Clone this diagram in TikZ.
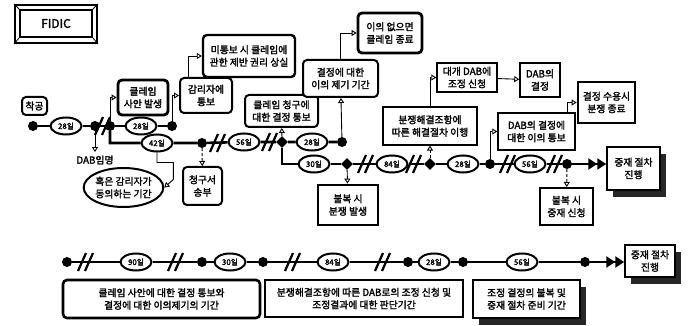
\documentclass[tikz,border=0pt]{standalone}
\usepackage{fontspec}
\setmainfont{Noto Sans CJK KR}[FakeBold=2]
\usetikzlibrary{arrows.meta,shapes.geometric,shadows}
\newcommand\hashat[2]{\draw[hash] (#1-8,#2+9) -- ++(8,-18) (#1-1,#2+9) -- ++(8,-18);}
\begin{document}
\begin{tikzpicture}[x=1pt,y=-1pt,
 font=\fontsize{9.8}{12.5}\selectfont,
 tl/.style={line width=2.6pt},
 dot/.style={circle,fill=black,inner sep=0pt,minimum size=10pt},
 dia/.style={diamond,fill=black,inner sep=0pt,minimum size=12pt},
 dur/.style={ellipse,draw,line width=2pt,fill=white,inner sep=0pt,minimum width=31pt,minimum height=17pt,font=\fontsize{7.8}{8}\selectfont},
 rbox/.style={draw,rounded corners=4pt,line width=2pt,align=center,inner sep=1pt,fill=white},
 sbox/.style={draw,line width=1.5pt,align=center,inner sep=1pt,fill=white},
 conn/.style={line width=0.9pt,-{Triangle[open,length=5pt,width=6pt]}},
 dconn/.style={conn,densely dashed},
 hash/.style={line width=2.2pt},
 big/.style={tl,-{Triangle[length=9pt,width=11pt]Triangle[length=9pt,width=11pt]}},
 shad/.style={drop shadow={shadow xshift=6pt,shadow yshift=-7pt,fill=black!85,opacity=1}}
]
\useasboundingbox (0,0) rectangle (697,326);

% FIDIC title
\node[draw,line width=2pt,minimum width=82pt,minimum height=38pt] (fidicframe) at (56,24) {};
\node[draw,line width=1.6pt,minimum width=72pt,minimum height=27pt,font=\fontsize{12}{13}\selectfont] (fidic) at (56,23.5) {FIDIC};
\draw[line width=0.8pt] (fidicframe.north west) -- (fidic.north west)
  (fidicframe.north east) -- (fidic.north east)
  (fidicframe.south west) -- (fidic.south west)
  (fidicframe.south east) -- (fidic.south east);

% boxes
\node[rbox,minimum width=25pt,minimum height=18pt] (start) at (34.5,106) {착공};
\node[rbox,line width=2.8pt,minimum width=50pt,minimum height=35pt] (claim) at (143,97.5) {클레임\\사안 발생};
\node[rbox,minimum width=52pt,minimum height=35pt] (notify) at (206,95.5) {감리자에\\통보};
\node[rbox,line width=2.4pt,minimum width=92pt,minimum height=42pt] (lose) at (249,56) {미통보 시 클레임에\\관한 제반 권리 상실};
\node[rbox,minimum width=73pt,minimum height=32pt] (decide) at (281.5,111) {클레임 청구에\\대한 결정 통보};
\node[rbox,minimum width=75pt,minimum height=37pt] (objection) at (340.5,78.5) {결정에 대한\\이의 제기 기간};
\node[rbox,line width=2.8pt,minimum width=64pt,minimum height=40pt] (noobj) at (390,33) {이의 없으면\\클레임 종료};
\node (dab) at (95,160) {DAB임명};
\node[ellipse,draw,line width=2pt,minimum width=77pt,minimum height=39pt,align=center,inner sep=0pt] (agree) at (123.5,187.5) {혹은 감리자가\\동의하는 기간};
\node[rbox,minimum width=39pt,minimum height=38pt] (send) at (202.5,186) {청구서\\송부};
\node[sbox,line width=2.8pt,minimum width=60pt,minimum height=40pt] (dispute) at (348,205) {불복 시\\분쟁 발생};
\node[sbox,line width=1.1pt,minimum width=94pt,minimum height=38pt] (resolve) at (430,126) {분쟁해결조항에\\따른 해결절차 이행};
\node[sbox,minimum width=60pt,minimum height=29pt] (refer) at (467,77.5) {대개 DAB에\\조정 신청};
\node[sbox,minimum width=40pt,minimum height=34pt] (dabdec) at (540,80) {DAB의\\결정};
\node[sbox,minimum width=77pt,minimum height=37pt] (notice) at (536.5,131.5) {DAB의 결정에\\대한 이의 통보};
\node[sbox,line width=2.6pt,minimum width=57pt,minimum height=41pt] (accept) at (606.5,102.5) {결정 수용시\\분쟁 종료};
\node[sbox,shad,minimum width=53pt,minimum height=43pt] (arb) at (633.5,168.5) {중재 절차\\진행};
\node[sbox,line width=2pt,minimum width=53pt,minimum height=37pt] (arbapply) at (566.5,206.5) {불복 시\\중재 신청};

% bottom boxes
\node[rbox,line width=2.6pt,minimum width=197pt,minimum height=38pt] (p1) at (161.5,299) {클레임 사안에 대한 결정 통보와\\결정에 대한 이의제기의 기간};
\node[sbox,line width=2.6pt,minimum width=198pt,minimum height=37pt] (p2) at (364,298.5) {분쟁해결조항에 따른 DAB로의 조정 신청 및\\조정결과에 대한 판단기간};
\node[sbox,shad,line width=1.8pt,minimum width=107pt,minimum height=38pt] (p3) at (526.5,299) {조정 결정의 불복 및\\중재 절차 준비 기간};
\node[sbox,shad,minimum width=50pt,minimum height=32pt] (arb2) at (650,261) {중재 절차\\진행};

% row A
\node[dot] (a1) at (33,126) {};
\node[dur] (e1) at (66,126) {28일};
\node[dot] (a2) at (95,126) {};
\node[dot] (a3) at (110,126) {};
\node[dur] (e2) at (141,126) {28일};
\node[dot] (a4) at (172,126) {};
% row B
\node[dur] (e3) at (157,143) {42일};
\node[dot] (b1) at (202,143) {};
\node[dur] (e4) at (244,142) {56일};
\node[dia] (b2) at (282,142) {};
\node[dur] (e5) at (312,142) {28일};
\node[dot] (b3) at (342,142) {};
% row C
\node[dur] (e6) at (314,164) {30일};
\node[dia] (c1) at (347,164) {};
\node[dur] (e7) at (392,164) {84일};
\node[dia] (c2) at (430,164) {};
\node[dur] (e8) at (463,164) {28일};
\node[dot] (c3) at (490,164) {};
\node[dur] (e9) at (530,164) {56일};
\node[dot] (c4) at (567,164) {};
% bottom row
\node[dot] (g1) at (67,262) {};
\node[dur] (f1) at (136,262) {90일};
\node[dot] (g2) at (202,262) {};
\node[dur] (f2) at (230,262) {30일};
\node[dot] (g3) at (263,262) {};
\node[dur] (f3) at (333,262) {84일};
\node[dot] (g4) at (408,262) {};
\node[dur] (f4) at (434,262) {28일};
\node[dot] (g5) at (463,262) {};
\node[dur] (f5) at (522,262) {56일};
\node[dot] (g6) at (585,262) {};

% timelines
\draw[tl] (a1) -- (e1) -- (a2) -- (a3) -- (e2) -- (a4);
\draw[tl] (a3) |- (e3) -- (b1) -- (e4) -- (b2) -- (e5) -- (b3);
\draw[tl] (b2) |- (e6) -- (c1) -- (e7) -- (c2) -- (e8) -- (c3) -- (e9) -- (c4);
\draw[big] (c4) -- (c4 -| arb.west);
\draw[tl] (g1) -- (f1) -- (g2) -- (f2) -- (g3) -- (f3) -- (g4) -- (f4) -- (g5) -- (f5) -- (g6);
\draw[big] (g6) -- (g6 -| arb2.west);

% breaks
\hashat{103}{126}
\hashat{218}{143}
\hashat{270}{142}
\hashat{366}{164}
\hashat{414}{164}
\hashat{508}{164}
\hashat{555}{164}
\hashat{86}{262}
\hashat{176}{262}
\hashat{293}{262}
\hashat{383}{262}

% connectors
\draw[conn] (a2) -- (dab);
\draw[conn] (a3) |- (claim);
\draw[conn] (a4) |- (notify);
\draw[conn] ([xshift=-18pt]notify.north) |- (lose);
\draw[conn] (e3.south) -- ++(0,10) -| ([xshift=9pt,yshift=8pt]agree.east) -- (agree.east);
\draw[dconn] (b1) -- (send);
\draw[conn] (b2) -- (decide);
\draw[conn] (b3) -- (objection);
\draw[conn] (objection) |- (noobj);
\draw[conn] (c1) -- (dispute);
\draw[dconn] (c2) -- (resolve);
\draw[conn] (resolve.north) |- (refer);
\draw[conn] (refer) -- (dabdec);
\draw[conn] (c3) |- (notice);
\draw[conn] ([xshift=-8pt]notice.north east) |- (accept);
\draw[dconn] (c4) -- (arbapply);
\end{tikzpicture}
\end{document}
